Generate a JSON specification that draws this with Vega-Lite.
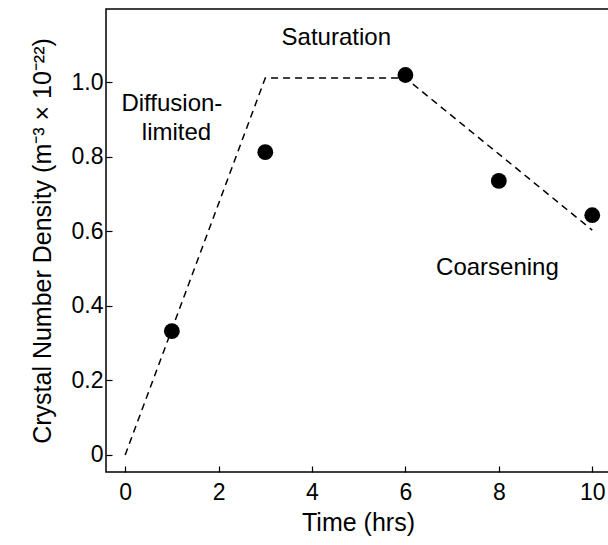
{
  "$schema": "https://vega.github.io/schema/vega-lite/v6.json",
  "autosize": {"type": "none"},
  "padding": {"left": 106, "top": 9, "right": 0, "bottom": 73},
  "width": 504,
  "height": 463,
  "config": {
    "font": "Liberation Sans",
    "view": {"stroke": "black", "strokeWidth": 1.5},
    "axis": {"grid": false, "domain": false, "tickColor": "black", "tickSize": -6, "tickWidth": 1.2, "labelColor": "black", "labelFontSize": 23, "titleFontSize": 25, "titleFontWeight": "normal", "titleColor": "black", "labelFont": "Liberation Sans", "titleFont": "Liberation Sans"}
  },
  "datasets": {
    "pts": [
      {"t": 1, "d": 0.332},
      {"t": 3, "d": 0.812},
      {"t": 6, "d": 1.019},
      {"t": 8, "d": 0.735},
      {"t": 10, "d": 0.643}
    ],
    "fit": [
      {"t": 0, "d": 0},
      {"t": 3, "d": 1.011},
      {"t": 6, "d": 1.011},
      {"t": 10, "d": 0.603}
    ],
    "labels": [
      {"t": 4.52, "d": 1.118, "txt": "Saturation"},
      {"t": 1.0, "d": 0.941, "txt": "Diffusion-"},
      {"t": 1.1, "d": 0.863, "txt": "limited"},
      {"t": 7.97, "d": 0.501, "txt": "Coarsening"}
    ]
  },
  "layer": [
    {
      "data": {"name": "fit"},
      "mark": {"type": "line", "color": "black", "strokeDash": [7, 5], "strokeWidth": 1.5, "clip": true},
      "encoding": {
        "x": {"field": "t", "type": "quantitative", "scale": {"domain": [-0.41, 10.38], "nice": false, "zero": false},
          "axis": {"values": [0, 2, 4, 6, 8, 10], "title": "Time (hrs)", "titlePadding": 6, "labelPadding": 15}},
        "y": {"field": "d", "type": "quantitative", "scale": {"domain": [-0.0456, 1.196], "nice": false, "zero": false},
          "axis": {"values": [0, 0.2, 0.4, 0.6, 0.8, 1.0], "labelExpr": "datum.value == 0 ? '0' : format(datum.value, '.1f')", "title": "Crystal Number Density (m⁻³ × 10⁻²²)", "titlePadding": 16, "labelPadding": 9}}
      }
    },
    {
      "data": {"name": "pts"},
      "mark": {"type": "point", "filled": true, "color": "black", "opacity": 1, "size": 250},
      "encoding": {
        "x": {"field": "t", "type": "quantitative"},
        "y": {"field": "d", "type": "quantitative"}
      }
    },
    {
      "data": {"name": "labels"},
      "mark": {"type": "text", "fontSize": 24, "color": "black", "align": "center", "baseline": "middle"},
      "encoding": {
        "x": {"field": "t", "type": "quantitative"},
        "y": {"field": "d", "type": "quantitative"},
        "text": {"field": "txt"}
      }
    }
  ]
}
